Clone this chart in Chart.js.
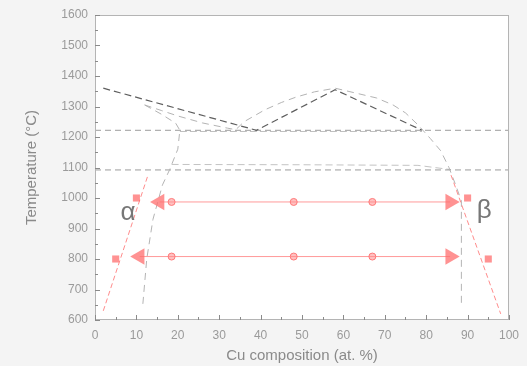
<!DOCTYPE html>
<html>
<head>
<meta charset="utf-8">
<script src="https://cdn.jsdelivr.net/npm/chart.js@4.4.0/dist/chart.umd.min.js"></script>
<style>
  html, body { margin: 0; padding: 0; background: #f4f4f4; }
  canvas { display: block; }
</style>
</head>
<body>
<canvas id="phase" width="527" height="366"></canvas>
<script>
// Measured liquidus (dark dashed)
const liquidusCu = [2, 39, 58, 79];
const liquidusT  = [1360, 1222, 1355, 1222];

// Calculated boundary: upper branch running over to the beta solvus
const calcUpperCu = [12, 16, 20, 26, 32, 34, 36, 41, 45, 48.6, 53, 58, 63, 68, 72, 75, 78, 81, 83.5, 85.5, 87.3, 88.5, 88.5];
const calcUpperT  = [1305, 1287, 1269, 1246, 1229, 1224, 1250, 1289, 1313, 1331, 1348, 1360, 1344, 1328, 1305, 1279, 1240, 1195, 1155, 1100, 1036, 990, 643];

// Calculated boundary: left branch down to the alpha solvus
const calcLeftCu = [12, 16, 19.5, 20.5, 20, 18, 16.3, 14, 12.5, 11.5];
const calcLeftT  = [1305, 1275, 1245, 1222, 1160, 1092, 1043, 930, 800, 643];

// Invariant temperatures (full-width dashed lines)
const invariantT = [1222, 1092];
const invariantCu = [0, 100];

// Calculated three-phase segments
const upperSegCu = [20.5, 79];
const upperSegT  = [1218, 1218];
const lowerSegCu = [18.5, 50, 78, 86];
const lowerSegT  = [1110, 1109, 1107, 1093];

// Alpha and beta solvus lines
const alphaSolvusCu = [2, 12.8];
const alphaSolvusT  = [630, 1075];
const betaSolvusCu  = [86, 98];
const betaSolvusT   = [1075, 620];

// Diffusion couples: anneal temperature, end compositions, sampled points
const coupleT       = [987, 808];
const coupleLeftCu  = [15.6, 10.8];
const coupleRightCu = [85.8, 85.8];
const sampleCu      = [18.5, 48, 67];

// Measured single-phase compositions
const alphaMeasCu = [10, 5];
const betaMeasCu  = [90, 95];
const measT       = [1000, 800];

// Phase labels
const phaseNames = ['α', 'β'];
const phaseCu    = [8, 94];
const phaseT     = [951, 958];

const pts = (xs, ys) => xs.map((x, i) => ({ x, y: ys[i] }));
const FONT = '"Liberation Sans", Arial, sans-serif';

const lineSet = (data, color, width, dash, order) => ({
  data, showLine: true, borderColor: color, borderWidth: width, borderDash: dash,
  pointRadius: 0, pointHoverRadius: 0, fill: false, tension: 0, order
});

const datasets = [];

// markers (drawn on top)
datasets.push({
  data: coupleT.flatMap(t => sampleCu.map(x => ({ x, y: t }))),
  showLine: false, pointStyle: 'circle', pointRadius: 3.5,
  backgroundColor: 'rgba(255,140,140,0.55)', borderColor: '#ff7a7a', borderWidth: 1, order: 0
});
datasets.push({
  data: [...pts(alphaMeasCu, measT), ...pts(betaMeasCu, measT)],
  showLine: false, pointStyle: 'rect', pointRadius: 5,
  backgroundColor: 'rgba(255,110,110,0.75)', borderColor: 'rgba(255,110,110,0.9)', borderWidth: 0, order: 0
});
datasets.push({
  data: pts(coupleLeftCu, coupleT),
  showLine: false, pointStyle: 'triangle', pointRadius: 9.5, rotation: -90,
  backgroundColor: 'rgba(255,110,110,0.75)', borderColor: 'rgba(255,110,110,0.9)', borderWidth: 0, order: 0
});
datasets.push({
  data: pts(coupleRightCu, coupleT),
  showLine: false, pointStyle: 'triangle', pointRadius: 9.5, rotation: 90,
  backgroundColor: 'rgba(255,110,110,0.75)', borderColor: 'rgba(255,110,110,0.9)', borderWidth: 0, order: 0
});

// couple lines
coupleT.forEach((t, i) => {
  datasets.push(lineSet([{ x: coupleLeftCu[i], y: t }, { x: coupleRightCu[i], y: t }], '#ff9a9a', 1, [], 1));
});

// solvus lines
datasets.push(lineSet(pts(alphaSolvusCu, alphaSolvusT), '#ff8c8c', 1, [5, 3], 1));
datasets.push(lineSet(pts(betaSolvusCu, betaSolvusT), '#ff8c8c', 1, [5, 3], 1));

// phase diagram lines
datasets.push(lineSet(pts(liquidusCu, liquidusT), '#5e5e5e', 1.2, [7, 4], 2));
datasets.push(lineSet(pts(calcUpperCu, calcUpperT), '#b4b4b4', 1, [7, 5], 3));
datasets.push(lineSet(pts(calcLeftCu, calcLeftT), '#b4b4b4', 1, [7, 5], 3));
invariantT.forEach(t => {
  datasets.push(lineSet(invariantCu.map(x => ({ x, y: t })), '#9c9c9c', 1, [6, 4], 3));
});
datasets.push(lineSet(pts(upperSegCu, upperSegT), '#c0c0c0', 1, [7, 3], 3));
datasets.push(lineSet(pts(lowerSegCu, lowerSegT), '#c4c4c4', 1, [7, 4], 3));

const framePlugin = {
  id: 'frame',
  beforeDraw(chart) {
    const { ctx, chartArea: a } = chart;
    ctx.save();
    ctx.fillStyle = '#f4f4f4';
    ctx.fillRect(0, 0, chart.width, chart.height);
    ctx.fillStyle = '#ffffff';
    ctx.fillRect(a.left, a.top, a.right - a.left, a.bottom - a.top);
    ctx.restore();
  },
  afterDraw(chart) {
    const { ctx, chartArea: a, scales: { x, y } } = chart;
    ctx.save();
    // frame
    ctx.strokeStyle = '#b4b4b4';
    ctx.lineWidth = 1;
    ctx.strokeRect(a.left + 0.5, a.top + 0.5, a.right - a.left - 1, a.bottom - a.top - 1);
    // inward ticks
    ctx.strokeStyle = '#8a8a8a';
    ctx.beginPath();
    for (let v = x.min; v <= x.max; v += 5) {
      const px = Math.round(x.getPixelForValue(v)) + 0.5;
      const len = v % 10 === 0 ? 5 : 3;
      ctx.moveTo(px, a.bottom);
      ctx.lineTo(px, a.bottom - len);
    }
    for (let v = y.min; v <= y.max; v += 50) {
      const py = Math.round(y.getPixelForValue(v)) + 0.5;
      const len = v % 100 === 0 ? 5 : 3;
      ctx.moveTo(a.left, py);
      ctx.lineTo(a.left + len, py);
    }
    ctx.stroke();
    // phase labels
    ctx.fillStyle = '#777777';
    ctx.font = '26px ' + FONT;
    ctx.textAlign = 'center';
    ctx.textBaseline = 'middle';
    phaseNames.forEach((n, i) => {
      ctx.fillText(n, x.getPixelForValue(phaseCu[i]), y.getPixelForValue(phaseT[i]));
    });
    ctx.restore();
  }
};

new Chart(document.getElementById('phase'), {
  type: 'scatter',
  data: { datasets },
  plugins: [framePlugin],
  options: {
    responsive: false,
    animation: false,
    events: [],
    layout: { padding: { top: 15, right: 16, left: 0, bottom: 0 } },
    plugins: { legend: { display: false }, tooltip: { enabled: false } },
    scales: {
      x: {
        type: 'linear', min: 0, max: 100,
        ticks: { stepSize: 10, color: '#9a9a9a', font: { family: FONT, size: 12 }, padding: 8,
                 callback: v => String(v) },
        grid: { display: false, drawTicks: false },
        border: { display: false },
        title: { display: true, text: 'Cu composition (at. %)', color: '#8a8a8a',
                 font: { family: FONT, size: 15 }, padding: { top: 0, bottom: 1 } },
        afterFit(s) { s.height = 46; }
      },
      y: {
        type: 'linear', min: 600, max: 1600,
        ticks: { stepSize: 100, color: '#9a9a9a', font: { family: FONT, size: 12 }, padding: 7,
                 callback: v => String(v) },
        grid: { display: false, drawTicks: false },
        border: { display: false },
        title: { display: true, text: 'Temperature (°C)', color: '#8a8a8a',
                 font: { family: FONT, size: 15 }, padding: { top: 23, bottom: 0 } },
        afterFit(s) { s.width = 95; }
      }
    }
  }
});
</script>
</body>
</html>
